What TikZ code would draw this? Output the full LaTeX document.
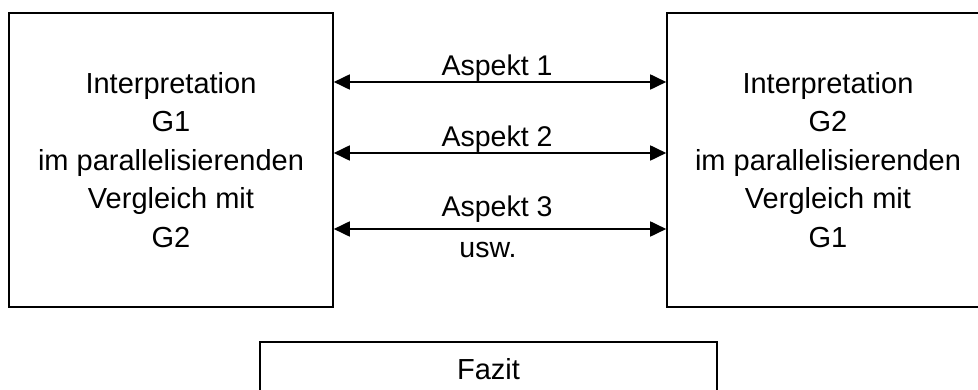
\documentclass[tikz,border=0pt]{standalone}
\usepackage{fontspec}
\setmainfont{Liberation Sans}
\usetikzlibrary{arrows.meta}
\begin{document}
\begin{tikzpicture}[x=1pt,y=-1pt,
  box/.style={draw, line width=1.6pt, align=center, inner sep=0pt,
    font=\fontsize{29}{38.5}\selectfont},
  biarrow/.style={line width=1.8pt, {Triangle[length=16pt,width=15pt]}-{Triangle[length=16pt,width=15pt]}},
  lab/.style={font=\fontsize{28.5}{34}\selectfont, inner sep=0pt}]
\clip (0,0) rectangle (978,390);
\node[box, minimum width=324pt, minimum height=294pt] (L) at (171,160)
  {Interpretation\\G1\\im parallelisierenden\\Vergleich mit\\G2};
\node[box, minimum width=322pt, minimum height=294pt] (R) at (828,160)
  {Interpretation\\G2\\im parallelisierenden\\Vergleich mit\\G1};
\node[box, minimum width=457pt, minimum height=54pt] (F) at (488.5,369) {Fazit};
\coordinate (y1) at (0,82);
\coordinate (y2) at (0,153);
\coordinate (y3) at (0,229);
\draw[biarrow] (L.east |- y1) -- (R.west |- y1);
\draw[biarrow] (L.east |- y2) -- (R.west |- y2);
\draw[biarrow] (L.east |- y3) -- (R.west |- y3);
\node[lab, anchor=base] (a1) at (497,76) {Aspekt 1};
\node[lab, anchor=base] (a2) at (497,147) {Aspekt 2};
\node[lab, anchor=base] (a3) at (497,217) {Aspekt 3};
\node[lab, anchor=base] (u) at (488,258) {usw.};
\end{tikzpicture}
\end{document}
